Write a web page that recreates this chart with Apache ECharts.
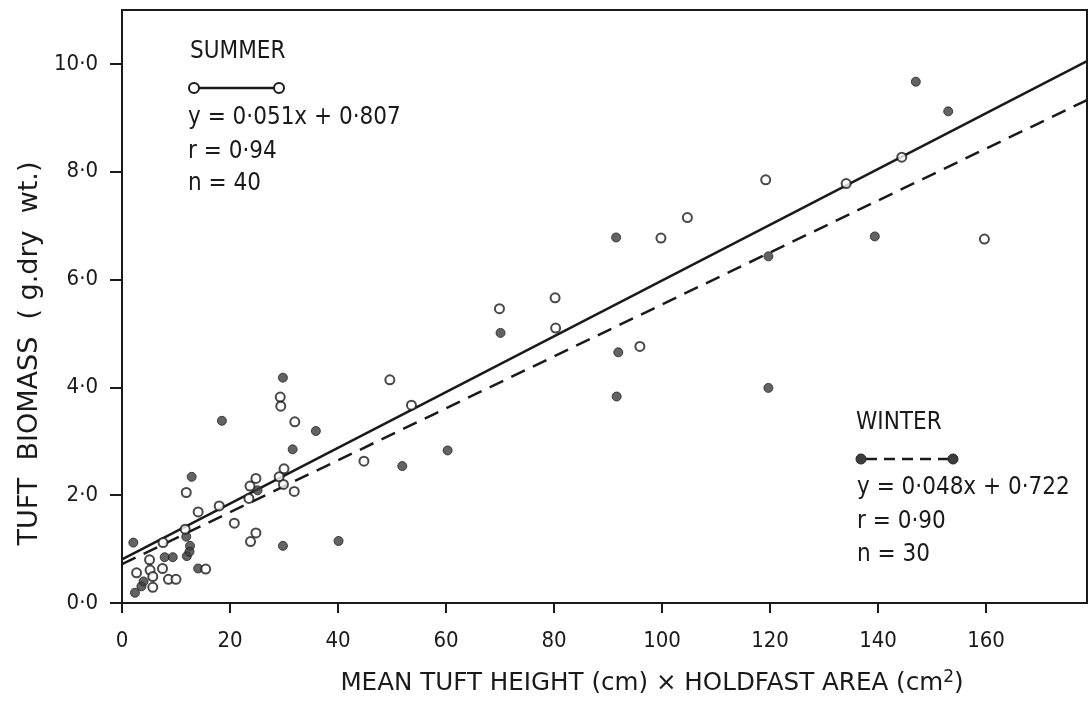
<!DOCTYPE html>
<html>
<head>
<meta charset="utf-8">
<script src="https://cdn.jsdelivr.net/npm/echarts@6/dist/echarts.min.js"></script>
<style>
    html, body {margin: 0; padding: 0; background: #fff;}
    #chart {width: 1090px; height: 702px;}
</style>
</head>
<body>
<div id="chart"></div>
<script>
//字体
var FONT = "'DejaVu Sans Condensed', 'Liberation Sans Narrow', 'DejaVu Sans', sans-serif";
var FONT_WIDE = "'DejaVu Sans', sans-serif";

//summer (open circles)
var summerX = [49.6, 53.6, 69.9, 80.2, 80.3, 95.9, 99.8, 104.7, 119.2, 134.1, 144.4, 159.7,
    29.3, 29.4, 32.0, 44.8, 30.0, 29.1, 29.9, 31.9, 24.8, 23.7, 23.5, 18.0, 14.1, 11.9,
    20.8, 24.8, 23.8, 11.7, 7.6, 5.1, 5.2, 2.7, 7.5, 15.5, 8.6, 10.0, 5.7, 5.7];
var summerY = [4.14, 3.67, 5.46, 5.66, 5.10, 4.76, 6.77, 7.15, 7.85, 7.78, 8.27, 6.75,
    3.82, 3.65, 3.36, 2.63, 2.49, 2.34, 2.20, 2.07, 2.31, 2.17, 1.94, 1.80, 1.69, 2.05,
    1.48, 1.30, 1.14, 1.37, 1.12, 0.80, 0.61, 0.56, 0.64, 0.63, 0.44, 0.44, 0.49, 0.29];

//winter (filled circles)
var winterX = [70.1, 91.9, 91.6, 60.3, 51.9, 91.5, 119.7, 119.7, 147.0, 153.0, 139.4,
    29.8, 35.9, 31.6, 18.5, 12.9, 25.1, 29.8, 40.1, 2.1, 11.9, 12.6, 12.0, 7.9, 9.4,
    14.1, 2.4, 3.6, 4.0, 12.5];
var winterY = [5.01, 4.65, 3.83, 2.83, 2.54, 6.78, 6.43, 3.99, 9.67, 9.12, 6.80,
    4.18, 3.19, 2.85, 3.38, 2.34, 2.09, 1.06, 1.15, 1.12, 1.23, 1.06, 0.87, 0.85, 0.85,
    0.64, 0.19, 0.31, 0.40, 0.95];

//regression lines as drawn
var fitX = [0, 178.7];
var summerFitY = [0.81, 10.05];
var winterFitY = [0.72, 9.33];

//ticks
var xTicks = [0, 20, 40, 60, 80, 100, 120, 140, 160];
var yTicks = [0, 2, 4, 6, 8, 10];
var xMax = 178.7;
var yMax = 11;

function pairs(xs, ys) {
    var out = [];
    for (var i = 0; i < xs.length; i++) {
        out.push([xs[i], ys[i]]);
    }
    return out;
}

var chart = echarts.init(document.getElementById('chart'));
var ink = '#1a1a1a';

var option = {
    backgroundColor: '#fff',
    animation: false,
    grid: {
        left: 122, right: 3, top: 10, bottom: 99,
        show: true, borderColor: ink, borderWidth: 2
    },
    xAxis: {
        type: 'value',
        min: 0,
        max: xMax,
        splitLine: {show: false},
        axisLine: {lineStyle: {color: ink, width: 2}},
        axisTick: {customValues: xTicks, length: 10, lineStyle: {color: ink, width: 2}},
        axisLabel: {
            customValues: xTicks,
            margin: 27,
            color: ink,
            fontSize: 22,
            fontFamily: FONT
        },
        name: '{a|MEAN TUFT HEIGHT (cm) × HOLDFAST AREA (cm}{s|2}{a|)}',
        nameLocation: 'middle',
        nameGap: 66,
        nameTextStyle: {
            color: ink,
            padding: [0, 0, 0, 95],
            rich: {
                a: {color: ink, fontSize: 24.6, fontFamily: FONT_WIDE, lineHeight: 30},
                s: {color: ink, fontSize: 17, fontFamily: FONT_WIDE, verticalAlign: 'top', lineHeight: 20}
            }
        }
    },
    yAxis: {
        type: 'value',
        min: 0,
        max: yMax,
        splitLine: {show: false},
        axisLine: {lineStyle: {color: ink, width: 2}},
        axisTick: {customValues: yTicks, length: 12, lineStyle: {color: ink, width: 2}},
        axisLabel: {
            customValues: yTicks,
            margin: 24,
            color: ink,
            fontSize: 22,
            fontFamily: FONT,
            formatter: function (v) {
                return v.toFixed(1).replace('.', '·');
            }
        },
        name: 'TUFT  BIOMASS  ( g.dry  wt.)',
        nameLocation: 'middle',
        nameGap: 78,
        nameTextStyle: {color: ink, fontSize: 27, fontFamily: FONT_WIDE, padding: [0, 94, 0, 0]}
    },
    series: [
        {
            name: 'summer fit',
            type: 'line',
            data: pairs(fitX, summerFitY),
            symbol: 'none',
            lineStyle: {color: ink, width: 2.5},
            z: 2
        },
        {
            name: 'winter fit',
            type: 'line',
            data: pairs(fitX, winterFitY),
            symbol: 'none',
            lineStyle: {color: ink, width: 2.5, type: [15, 9]},
            z: 2
        },
        {
            name: 'winter',
            type: 'scatter',
            data: pairs(winterX, winterY),
            symbol: 'circle',
            symbolSize: 9,
            itemStyle: {color: '#3c3c3c', borderColor: '#222', borderWidth: 1},
            z: 3
        },
        {
            name: 'summer',
            type: 'scatter',
            data: pairs(summerX, summerY),
            symbol: 'circle',
            symbolSize: 9,
            itemStyle: {color: '#fff', borderColor: ink, borderWidth: 2},
            z: 4
        }
    ],
    //图例说明文字
    graphic: [
        {type: 'text', left: 190, top: 40, style: {text: 'SUMMER', fill: ink, font: '24px ' + FONT}},
        {type: 'line', shape: {x1: 199, y1: 88, x2: 274, y2: 88}, style: {stroke: ink, lineWidth: 2.5}},
        {type: 'circle', shape: {cx: 194, cy: 88, r: 5}, style: {fill: '#fff', stroke: ink, lineWidth: 2}},
        {type: 'circle', shape: {cx: 279, cy: 88, r: 5}, style: {fill: '#fff', stroke: ink, lineWidth: 2}},
        {type: 'text', left: 188, top: 106, style: {text: 'y = 0·051x + 0·807', fill: ink, font: '24px ' + FONT}},
        {type: 'text', left: 188, top: 140, style: {text: 'r = 0·94', fill: ink, font: '24px ' + FONT}},
        {type: 'text', left: 188, top: 172, style: {text: 'n = 40', fill: ink, font: '24px ' + FONT}},

        {type: 'text', left: 856, top: 411, style: {text: 'WINTER', fill: ink, font: '24px ' + FONT}},
        {type: 'line', shape: {x1: 866, y1: 459, x2: 948, y2: 459}, style: {stroke: ink, lineWidth: 2.5, lineDash: [11, 7]}},
        {type: 'circle', shape: {cx: 861, cy: 459, r: 5}, style: {fill: '#3c3c3c', stroke: '#222', lineWidth: 1}},
        {type: 'circle', shape: {cx: 953, cy: 459, r: 5}, style: {fill: '#3c3c3c', stroke: '#222', lineWidth: 1}},
        {type: 'text', left: 857, top: 476, style: {text: 'y = 0·048x + 0·722', fill: ink, font: '24px ' + FONT}},
        {type: 'text', left: 857, top: 510, style: {text: 'r = 0·90', fill: ink, font: '24px ' + FONT}},
        {type: 'text', left: 857, top: 543, style: {text: 'n = 30', fill: ink, font: '24px ' + FONT}}
    ]
};

chart.setOption(option);
</script>
</body>
</html>
